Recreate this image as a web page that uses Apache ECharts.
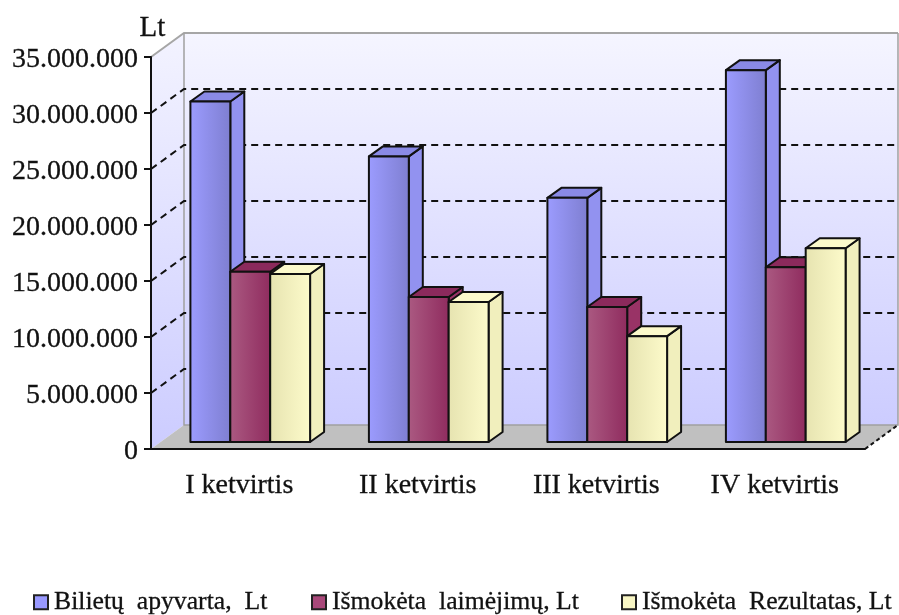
<!DOCTYPE html>
<html>
<head>
<meta charset="utf-8">
<style>
  html,body{margin:0;padding:0;background:#fff;}
  #chart{width:899px;height:615px;}
</style>
<script src="https://cdn.jsdelivr.net/npm/echarts@6/dist/echarts.min.js"></script>
</head>
<body>
<div id="chart"></div>
<script>
  var categories = ['I ketvirtis', 'II ketvirtis', 'III ketvirtis', 'IV ketvirtis'];
  var apyvarta = [30400000, 25500000, 21800000, 33200000];
  var laimejimu = [15200000, 12950000, 12050000, 15600000];
  var rezultatas = [15000000, 12500000, 9450000, 17300000];
  var yTicks = [5000000, 10000000, 15000000, 20000000, 25000000, 30000000];
  var nameA = 'Bilietų apyvarta, Lt';
  var nameB = 'Išmokėta laimėjimų, Lt';
  var nameC = 'Išmokėta Rezultatas, Lt';

  var FONT = '"Liberation Serif", serif';
  // 3d look: how far the back wall sits from the front plane
  var WALL_X = 33, WALL_Y = 24;
  var BAR_SHIFT_X = 10, BAR_SHIFT_Y = 7;
  var BAR_DEPTH_X = 14, BAR_DEPTH_Y = 10;
  var BAR_W = 0.2235; // part of a category band

  function grad(x2, y2, c1, c2){
    return new echarts.graphic.LinearGradient(0, 0, x2, y2, [{offset:0,color:c1},{offset:1,color:c2}]);
  }

  // walls, floor and the dashed grid behind the bars
  function renderRoom(params, api){
    var c = params.coordSys, kids = [];
    var l = c.x, r = c.x + c.width, t = c.y, b = c.y + c.height;
    kids.push({type:'polygon', shape:{points:[[l+WALL_X,t-WALL_Y],[r+WALL_X,t-WALL_Y],[r+WALL_X,b-WALL_Y],[l+WALL_X,b-WALL_Y]]},
      style:{fill:grad(0,1,'#f5f5ff','#ccccff')}});
    kids.push({type:'polygon', shape:{points:[[l,t],[l+WALL_X,t-WALL_Y],[l+WALL_X,b-WALL_Y],[l,b]]},
      style:{fill:grad(0,1,'#f3f3ff','#ccccff')}});
    kids.push({type:'polygon', shape:{points:[[l,b],[l+WALL_X,b-WALL_Y],[r+WALL_X,b-WALL_Y],[r,b]]},
      style:{fill:'#c0c0c0'}});
    kids.push({type:'polyline', shape:{points:[[l,t],[l+WALL_X,t-WALL_Y],[r+WALL_X,t-WALL_Y]]},
      style:{fill:null, stroke:'#a6a6a6', lineWidth:2}});
    kids.push({type:'polyline', shape:{points:[[l+WALL_X,t-WALL_Y],[l+WALL_X,b-WALL_Y],[r+WALL_X,b-WALL_Y],[r+WALL_X,t-WALL_Y]]},
      style:{fill:null, stroke:'#a0a0a0', lineWidth:1.5}});
    yTicks.forEach(function(v){
      var y = api.coord([0, v])[1];
      kids.push({type:'polyline', shape:{points:[[l,y],[l+WALL_X,y-WALL_Y],[r+WALL_X,y-WALL_Y]]},
        style:{fill:null, stroke:'#111', lineWidth:2, lineDash:[7,5]}});
    });
    kids.push({type:'line', shape:{x1:r,y1:b,x2:r+WALL_X,y2:b-WALL_Y},
      style:{stroke:'#111', lineWidth:2, lineDash:[4,3]}});
    return {type:'group', children:kids};
  }

  function barRenderer(slot, front1, front2, side, top){
    return function(params, api){
      var p = api.coord([api.value(0), api.value(1)]);
      var z = api.coord([api.value(0), 0]);
      var w = api.size([1, 0])[0] * BAR_W;
      var x0 = p[0] + BAR_SHIFT_X + (slot - 1.5) * w, x1 = x0 + w;
      var yT = p[1] - BAR_SHIFT_Y, yB = z[1] - BAR_SHIFT_Y;
      var dx = BAR_DEPTH_X, dy = BAR_DEPTH_Y;
      var line = {stroke:'#111', lineWidth:2, lineJoin:'round'};
      return {type:'group', children:[
        {type:'polygon', shape:{points:[[x1,yT],[x1+dx,yT-dy],[x1+dx,yB-dy],[x1,yB]]},
          style:Object.assign({fill:side}, line)},
        {type:'polygon', shape:{points:[[x0,yT],[x0+dx,yT-dy],[x1+dx,yT-dy],[x1,yT]]},
          style:Object.assign({fill:top}, line)},
        {type:'rect', shape:{x:x0,y:yT,width:w,height:yB-yT},
          style:Object.assign({fill:grad(1,0,front1,front2)}, line)}
      ]};
    };
  }

  function barSeries(name, values, slot, color, f1, f2, side, top){
    return {
      name:name, type:'custom', clip:false, z:3,
      itemStyle:{color:color},
      encode:{x:0, y:1},
      renderItem:barRenderer(slot, f1, f2, side, top),
      data:values.map(function(v, i){ return [i, v]; })
    };
  }

  // the legend text in the picture has wide word gaps, shown here as double spaces
  function legendAt(name, left, shown){
    return {
      data:[name], left:left, top:589, padding:0, icon:'rect', itemWidth:14, itemHeight:14,
      itemStyle:{borderColor:'#222', borderWidth:2},
      selectedMode:false,
      formatter:function(){ return shown; },
      textStyle:{fontFamily:FONT, fontSize:25.7, color:'#111', textBorderColor:'#111', textBorderWidth:0.3, padding:[0,0,0,1]}
    };
  }

  var chart = echarts.init(document.getElementById('chart'));
  var option = {
    animation:false,
    backgroundColor:'#fff',
    legend:[
      legendAt(nameA, 33, 'Bilietų  apyvarta,  Lt'),
      legendAt(nameB, 311, 'Išmokėta  laimėjimų, Lt'),
      legendAt(nameC, 621, 'Išmokėta  Rezultatas, Lt')
    ],
    grid:{left:151, right:34, top:57, bottom:166},
    xAxis:{
      type:'category', data:categories,
      axisLine:{lineStyle:{color:'#111', width:2}},
      axisTick:{length:7, alignWithLabel:false, lineStyle:{color:'#111', width:2}},
      axisLabel:{fontFamily:FONT, fontSize:28, color:'#111', margin:23, textBorderColor:'#111', textBorderWidth:0.3, padding:[0,2,0,0]},
      z:5
    },
    yAxis:{
      type:'value', min:0, max:35000000, interval:5000000,
      name:'Lt', nameLocation:'end', nameGap:14,
      nameTextStyle:{fontFamily:FONT, fontSize:29, color:'#111', padding:[0,0,0,3], textBorderColor:'#111', textBorderWidth:0.3},
      splitLine:{show:false},
      axisLine:{show:true, lineStyle:{color:'#111', width:2}},
      axisTick:{show:true, length:7, lineStyle:{color:'#111', width:2}},
      axisLabel:{
        fontFamily:FONT, fontSize:28, color:'#111', margin:13, verticalAlign:'top', lineHeight:6,
        textBorderColor:'#111', textBorderWidth:0.3,
        formatter:function(v){ return String(v).replace(/\B(?=(\d{3})+$)/g, '.'); }
      },
      z:5
    },
    series:[
      {type:'custom', silent:true, clip:false, z:1, renderItem:renderRoom, encode:{x:0,y:1}, data:[[0,0]]},
      barSeries(nameA, apyvarta, 0, '#9999ff', '#9c9cff', '#7e7ed0', '#9292f0', '#8a8ae6'),
      barSeries(nameB, laimejimu, 1, '#a9487a', '#ab5a82', '#8f2b5e', '#993366', '#8b2a5c'),
      barSeries(nameC, rezultatas, 2, '#f8f6c4', '#e6e3b0', '#fdfbcb', '#f1efbd', '#fcfacb')
    ]
  };
  chart.setOption(option);
</script>
</body>
</html>
